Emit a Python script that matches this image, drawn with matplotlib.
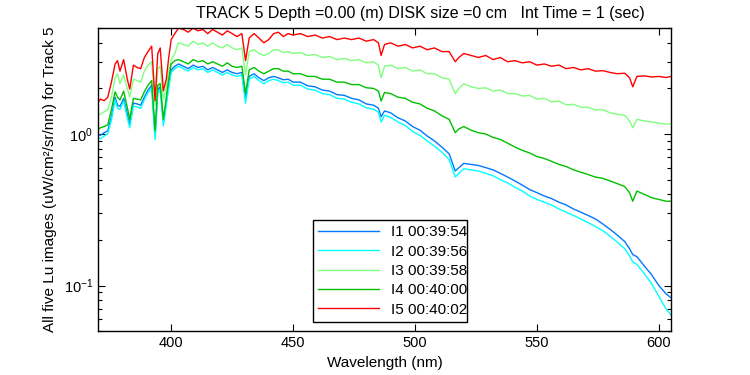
import matplotlib
matplotlib.use("Agg")
import matplotlib.pyplot as plt
from matplotlib.ticker import LogLocator, NullFormatter, FixedLocator

plt.rcParams['font.family'] = ['Liberation Sans', 'DejaVu Sans']

wl = [370, 371, 372.5, 374, 375.5, 377, 378, 379, 380.5, 382, 383, 384.5, 386, 387.5, 389, 390.5, 392, 393.4, 394.5, 395.5,
      396.8, 398, 399, 400, 401.5, 403, 405, 407, 409, 411, 413, 415, 417, 419, 421, 423, 425, 427, 429, 430.5,
      432, 434, 436, 438, 440, 442, 444, 446, 448, 450, 453, 456, 459, 462, 465, 468, 471, 474, 477, 480,
      483, 485, 486.1, 487.5, 490, 493, 496, 499, 502, 505, 508, 511, 514, 516.5, 518, 520, 523, 526, 529, 532,
      535, 538, 541, 544, 547, 550, 553, 556, 559, 562, 565, 568, 571, 574, 577, 580, 583, 586, 588, 589.3,
      591, 594, 597, 600, 603, 605]

i1 = [1.0, 0.98, 1.02, 1.05, 1.30, 1.75, 1.55, 1.52, 1.72, 1.35, 1.15, 1.6, 1.58, 1.55, 1.75, 1.95, 2.1, 0.97, 1.95, 2.05,
      1.2, 1.62, 2.1, 2.65, 2.8, 2.9, 2.8, 2.7, 2.85, 2.75, 2.8, 2.65, 2.75, 2.65, 2.55, 2.65, 2.55, 2.5, 2.55, 1.7,
      2.4, 2.5, 2.35, 2.25, 2.35, 2.4, 2.35, 2.28, 2.3, 2.2, 2.2, 2.08, 2.05, 1.95, 1.92, 1.82, 1.8, 1.72, 1.68, 1.58,
      1.55, 1.48, 1.3, 1.42, 1.38, 1.28, 1.22, 1.12, 1.06, 0.97, 0.9, 0.82, 0.74, 0.57, 0.6, 0.64, 0.63, 0.62, 0.6, 0.58,
      0.55, 0.52, 0.49, 0.46, 0.43, 0.41, 0.39, 0.375, 0.355, 0.34, 0.32, 0.305, 0.29, 0.275, 0.255, 0.235, 0.215, 0.195, 0.175, 0.16,
      0.155, 0.135, 0.118, 0.1, 0.088, 0.083]

i2 = [0.95, 0.93, 0.97, 1.0, 1.24, 1.68, 1.48, 1.45, 1.65, 1.28, 1.1, 1.53, 1.51, 1.48, 1.68, 1.88, 2.02, 0.92, 1.86, 1.97,
      1.13, 1.55, 2.02, 2.55, 2.7, 2.8, 2.7, 2.6, 2.75, 2.65, 2.7, 2.55, 2.65, 2.55, 2.45, 2.55, 2.45, 2.4, 2.45, 1.6,
      2.3, 2.4, 2.25, 2.15, 2.25, 2.3, 2.25, 2.18, 2.2, 2.1, 2.1, 1.98, 1.95, 1.85, 1.82, 1.72, 1.7, 1.62, 1.58, 1.49,
      1.46, 1.39, 1.2, 1.33, 1.29, 1.2, 1.14, 1.04, 0.98, 0.9, 0.83, 0.76, 0.68, 0.52, 0.55, 0.59, 0.58, 0.57, 0.55, 0.53,
      0.5, 0.475, 0.445, 0.42, 0.39, 0.37, 0.355, 0.34, 0.32, 0.305, 0.29, 0.275, 0.26, 0.245, 0.23, 0.212, 0.193, 0.175, 0.157, 0.143,
      0.138, 0.12, 0.103, 0.085, 0.07, 0.064]

i3 = [1.33, 1.36, 1.40, 1.45, 1.75, 2.35, 2.5, 2.15, 2.45, 2.0, 1.75, 2.3, 2.25, 2.2, 2.6, 2.85, 3.0, 1.54, 2.7, 2.8,
      1.70, 2.05, 2.6, 3.1, 3.4, 4.0, 3.9, 3.8, 4.1, 3.9, 4.0, 3.8, 4.0, 3.8, 3.7, 3.9, 3.7, 3.6, 3.7, 2.45,
      3.5, 3.6, 3.4, 3.3, 3.4, 3.6, 3.6, 3.45, 3.5, 3.4, 3.45, 3.3, 3.35, 3.2, 3.25, 3.1, 3.15, 3.05, 3.1, 2.95,
      3.0, 2.85, 2.35, 2.8, 2.85, 2.7, 2.75, 2.6, 2.65, 2.5, 2.5, 2.35, 2.3, 1.85, 2.0, 2.15, 2.05, 2.0, 2.02, 1.92,
      1.95, 1.85, 1.85, 1.78, 1.8, 1.7, 1.72, 1.63, 1.65, 1.56, 1.57, 1.5, 1.5, 1.44, 1.45, 1.38, 1.35, 1.33, 1.22, 1.1,
      1.25, 1.22, 1.2, 1.18, 1.16, 1.17]

i4 = [1.07, 1.10, 1.12, 1.15, 1.45, 1.9, 1.75, 1.68, 1.92, 1.5, 1.25, 1.72, 1.7, 1.68, 1.9, 2.1, 2.25, 1.05, 2.1, 2.15,
      1.25, 1.75, 2.3, 2.9, 3.05, 3.1, 3.0, 2.9, 3.1, 3.0, 3.05, 2.9, 3.0, 2.9, 2.8, 2.95, 2.8, 2.75, 2.8, 1.85,
      2.65, 2.75, 2.6, 2.5, 2.6, 2.7, 2.7, 2.6, 2.6, 2.5, 2.5, 2.4, 2.4, 2.3, 2.3, 2.2, 2.2, 2.12, 2.12, 2.02,
      2.0, 1.92, 1.65, 1.88, 1.85, 1.75, 1.72, 1.62, 1.58, 1.48, 1.42, 1.32, 1.25, 1.02, 1.08, 1.12, 1.06, 1.02, 1.0, 0.95,
      0.92, 0.87, 0.82, 0.78, 0.75, 0.71, 0.69, 0.66, 0.63, 0.61, 0.58, 0.56, 0.54, 0.52, 0.51, 0.49, 0.47, 0.45, 0.41, 0.36,
      0.42, 0.40, 0.38, 0.37, 0.36, 0.36]

i5 = [1.62, 1.70, 1.66, 1.75, 2.2, 2.9, 3.05, 2.6, 3.1, 2.3, 1.98, 2.85, 2.75, 2.7, 3.2, 3.5, 3.8, 1.66, 3.4, 3.7,
      1.93, 2.3, 3.2, 4.2, 4.6, 5.0, 4.9, 4.7, 5.0, 4.8, 4.9, 4.6, 4.9, 4.7, 4.5, 4.8, 4.6, 4.4, 4.6, 3.05,
      4.3, 4.6, 4.3, 4.0, 4.2, 4.6, 4.7, 4.4, 4.6, 4.5, 4.6, 4.4, 4.5, 4.3, 4.4, 4.2, 4.3, 4.2, 4.3, 4.1,
      4.2, 4.0, 3.3, 3.9, 4.0, 3.8, 3.9, 3.7, 3.8, 3.6, 3.7, 3.5, 3.5, 3.0, 3.2, 3.4, 3.3, 3.2, 3.3, 3.1,
      3.2, 3.0, 3.05, 2.95, 3.0, 2.85, 2.9, 2.8, 2.85, 2.7, 2.75, 2.65, 2.7, 2.6, 2.62, 2.55, 2.5, 2.52, 2.35, 2.05,
      2.4, 2.42, 2.38, 2.4, 2.36, 2.4]

labels = ["I1 00:39:54", "I2 00:39:56", "I3 00:39:58", "I4 00:40:00", "I5 00:40:02"]
colors = ["#0078ff", "#00ffff", "#80ff80", "#00c000", "#ff0000"]
series = [i1, i2, i3, i4, i5]

xticks = [400, 450, 500, 550, 600]

fig = plt.figure(figsize=(7.5, 3.75), dpi=100)
ax = fig.add_axes([0.1307, 0.117, 0.764, 0.808])
for s, c, lab in zip(series, colors, labels):
    ax.plot(wl, s, color=c, lw=1.0, label=lab)

ax.set_yscale('log')
ax.set_xlim(370, 605)
ax.set_ylim(0.05, 5)
ax.xaxis.set_major_locator(FixedLocator(xticks))
ax.set_xticklabels([str(t) for t in xticks])
ax.yaxis.set_major_locator(LogLocator(base=10, numticks=10))
ax.yaxis.set_minor_locator(LogLocator(base=10, subs=range(2, 10), numticks=20))
ax.yaxis.set_minor_formatter(NullFormatter())
ax.tick_params(which='both', direction='in', top=True, right=True, labelsize=10.5, width=0.8)
ax.tick_params(which='major', length=5)
ax.tick_params(which='minor', length=3)
for sp in ax.spines.values():
    sp.set_linewidth(1.0)

ax.set_xlabel("Wavelength (nm)", fontsize=11, labelpad=4)
ax.set_ylabel("All five Lu images (uW/cm²/sr/nm) for Track 5", fontsize=11, labelpad=5)
fig.text(0.56, 0.965, "TRACK 5 Depth =0.00 (m) DISK size =0 cm   Int Time = 1 (sec)",
         ha='center', va='center', fontsize=11.5)

leg = ax.legend(loc='lower left', bbox_to_anchor=(0.417, 0.141, 0.206, 0.272),
                bbox_transform=fig.transFigure, mode='expand', fancybox=False,
                edgecolor='black', framealpha=1, fontsize=11, handlelength=4.0,
                borderpad=0.35, labelspacing=0.35, handletextpad=0.8, borderaxespad=0)
leg.get_frame().set_linewidth(1.0)

fig.savefig("out.png", dpi=100)
